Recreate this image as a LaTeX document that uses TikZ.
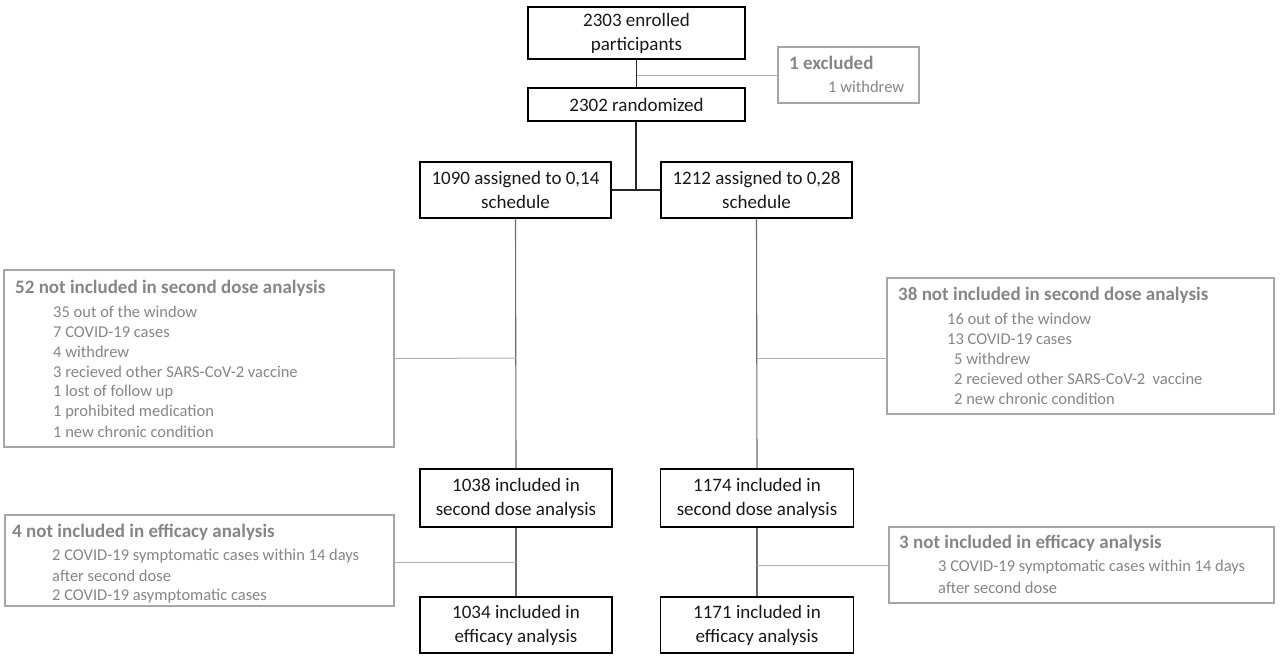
\documentclass[tikz,border=0pt]{standalone}
\usepackage{fontspec}
\setmainfont{Carlito}
\begin{document}
\begin{tikzpicture}[x=1pt,y=-1pt,
  mainbox/.style={draw=black,line width=1.4pt,inner sep=0pt,align=center,
    font=\fontsize{19}{24}\selectfont,text=black!90},
  graybox/.style={draw=gray!70,line width=1.2pt,inner sep=0pt},
  head/.style={anchor=west,inner sep=0pt,text=gray!105!black,font=\fontsize{19}{22}\selectfont\bfseries},
  item/.style={anchor=west,inner sep=0pt,text=gray!95,font=\fontsize{16.5}{20}\selectfont},
  darkline/.style={draw=black!85,line width=1.3pt},
  midline/.style={draw=gray!85!black,line width=1.1pt},
  lightline/.style={draw=gray!60,line width=1pt}]
\useasboundingbox (0,0) rectangle (1280,657);
\fill[white] (0,0) rectangle (1280,657);
% main boxes
\node[mainbox,minimum width=217pt,minimum height=52pt] (enr) at (636.5,33) {2303 enrolled\\participants};
\node[mainbox,minimum width=217pt,minimum height=33pt] (rnd) at (636.5,104.5) {2302 randomized};
\node[mainbox,minimum width=191pt,minimum height=56pt] (a1) at (515.5,190) {1090 assigned to 0,14\\schedule};
\node[mainbox,minimum width=191pt,minimum height=56pt] (a2) at (756.5,190) {1212 assigned to 0,28\\schedule};
\node[mainbox,minimum width=192pt,minimum height=58pt] (b1) at (516,498) {1038 included in\\second dose analysis};
\node[mainbox,minimum width=193pt,minimum height=58pt] (b2) at (757,498) {1174 included in\\second dose analysis};
\node[mainbox,minimum width=192pt,minimum height=56pt] (c1) at (516,625) {1034 included in\\efficacy analysis};
\node[mainbox,minimum width=193pt,minimum height=56pt] (c2) at (757,625) {1171 included in\\efficacy analysis};
% gray boxes
\node[graybox,minimum width=141pt,minimum height=56pt] (ex) at (848.5,75) {};
\node[head] (ext) at (789,63) {1 excluded};
\node[item] (exi) at (828,87) {1 withdrew};

\node[graybox,minimum width=390pt,minimum height=177pt] (g1) at (199,358.5) {};
\node[head] (g1h) at (15,288) {52 not included in second dose analysis};
\node[item] (g1a) at (53,312) {35 out of the window};
\node[item] (g1b) at (53,332) {7 COVID-19 cases};
\node[item] (g1c) at (53,352) {4 withdrew};
\node[item] (g1d) at (53,372) {3 recieved other SARS-CoV-2 vaccine};
\node[item] (g1e) at (53,392) {1 lost of follow up};
\node[item] (g1f) at (53,412) {1 prohibited medication};
\node[item] (g1g) at (53,432) {1 new chronic condition};

\node[graybox,minimum width=387pt,minimum height=136pt] (g2) at (1080.5,346) {};
\node[head] (g2h) at (898,295) {38 not included in second dose analysis};
\node[item] (g2a) at (947,319) {16 out of the window};
\node[item] (g2b) at (947,339) {13 COVID-19 cases};
\node[item] (g2c) at (954,359) {5 withdrew};
\node[item] (g2d) at (954,379) {2 recieved other SARS-CoV-2\ \ vaccine};
\node[item] (g2e) at (954,399) {2 new chronic condition};

\node[graybox,minimum width=389pt,minimum height=91pt] (g3) at (199.5,560.5) {};
\node[head] (g3h) at (12,532) {4 not included in efficacy analysis};
\node[item] (g3a) at (52,556) {2 COVID-19 symptomatic cases within 14 days};
\node[item] (g3b) at (52,576) {after second dose};
\node[item] (g3c) at (52,596) {2 COVID-19 asymptomatic cases};

\node[graybox,minimum width=385pt,minimum height=76pt] (g4) at (1081.5,565) {};
\node[head] (g4h) at (899,543) {3 not included in efficacy analysis};
\node[item] (g4a) at (938,567) {3 COVID-19 symptomatic cases within 14 days};
\node[item] (g4b) at (938,588) {after second dose};
% connectors
\draw[darkline] (enr.south) -- (rnd.north);
\coordinate (jx) at (637,75);
\draw[lightline] (jx) -- (ex.west);
\draw[darkline] (a1.east) -- (a2.west);
\coordinate (js) at (636,191);
\draw[darkline] (rnd.south -| js) -- (js);
\draw[midline] (a1.south) -- (b1.north);
\draw[midline] (a2.south) -- (b2.north);
\draw[midline] (b1.south) -- (c1.north);
\draw[midline] (b2.south) -- (c2.north);
\coordinate (j1) at (516,358);
\draw[lightline] (g1.east) -- (j1);
\coordinate (j2) at (757,358);
\draw[lightline] (j2) -- (j2 -| g2.west);
\coordinate (j3) at (516,562);
\draw[lightline] (j3 -| g3.east) -- (j3);
\coordinate (j4) at (757,565);
\draw[lightline] (j4) -- (g4.west);
\end{tikzpicture}
\end{document}
